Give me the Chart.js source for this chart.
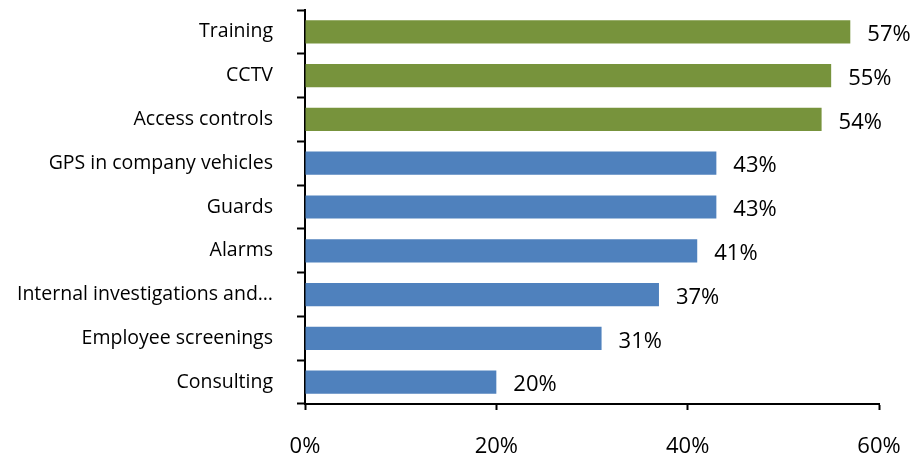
<!DOCTYPE html>
<html lang="en">
<head>
    <meta charset="UTF-8">
    <title>Security measures</title>
    <script src="https://cdn.jsdelivr.net/npm/chart.js"></script>
    <style>
        body {
            margin: 0;
            background: #fff;
        }
        .wrap {
            width: 912px;
            height: 456px;
        }
    </style>
</head>
<body>
    <div class="wrap"><canvas id="measuresChart" width="912" height="456"></canvas></div>

    <script>
        const categories = [
            'Training', 'CCTV', 'Access controls', 'GPS in company vehicles', 'Guards',
            'Alarms', 'Internal investigations and\u2026', 'Employee screenings', 'Consulting'
        ];
        const shares = [57, 55, 54, 43, 43, 41, 37, 31, 20];
        const topCount = 3; // first three measures shown in green
        const xTicks = [0, 20, 40, 60];

        const green = '#77933C';
        const blue = '#4F81BD';
        const fontFamily = '"Open Sans", "Noto Sans", sans-serif';

        // writes the percentage just past the end of each bar
        const valueLabels = {
            id: 'valueLabels',
            afterDatasetsDraw(chart) {
                const ctx = chart.ctx;
                const meta = chart.getDatasetMeta(0);
                ctx.save();
                ctx.font = '22px ' + fontFamily;
                ctx.fillStyle = '#000';
                ctx.textAlign = 'left';
                ctx.textBaseline = 'middle';
                meta.data.forEach((bar, i) => {
                    ctx.fillText(shares[i] + '%', bar.x + 17, bar.y + 3);
                });
                ctx.restore();
            }
        };

        // no automatic room for edge labels, the layout padding handles it
        function noEdgePadding(scale) {
            scale.paddingTop = 0;
            scale.paddingBottom = 0;
            scale.paddingLeft = 0;
            scale.paddingRight = 0;
        }

        new Chart(document.getElementById('measuresChart'), {
            type: 'bar',
            data: {
                labels: categories,
                datasets: [{
                    data: shares,
                    backgroundColor: shares.map((v, i) => i < topCount ? green : blue),
                    barPercentage: 0.53,
                    categoryPercentage: 1
                }]
            },
            options: {
                indexAxis: 'y',
                responsive: false,
                animation: false,
                layout: { padding: { top: 10, right: 33, left: 0, bottom: 0 } },
                plugins: {
                    legend: { display: false },
                    tooltip: { enabled: false }
                },
                scales: {
                    x: {
                        min: 0,
                        max: 60,
                        afterBuildTicks(scale) {
                            scale.ticks = xTicks.map(v => ({ value: v }));
                        },
                        afterFit(scale) {
                            scale.height = 52;
                            noEdgePadding(scale);
                        },
                        grid: {
                            drawOnChartArea: false,
                            drawTicks: true,
                            tickLength: 6,
                            tickWidth: 2,
                            tickColor: '#000'
                        },
                        border: { color: '#000', width: 2 },
                        ticks: {
                            padding: 24,
                            color: '#000',
                            font: { family: fontFamily, size: 22 },
                            callback: v => v + '%'
                        }
                    },
                    y: {
                        afterFit(scale) {
                            scale.width = 305;
                            noEdgePadding(scale);
                        },
                        grid: {
                            drawOnChartArea: false,
                            drawTicks: true,
                            tickLength: 8,
                            tickWidth: 2,
                            tickColor: '#000'
                        },
                        border: { color: '#000', width: 2 },
                        ticks: {
                            padding: 24,
                            color: '#000',
                            font: { family: fontFamily, size: 19.5 }
                        }
                    }
                }
            },
            plugins: [valueLabels]
        });
    </script>
</body>
</html>
